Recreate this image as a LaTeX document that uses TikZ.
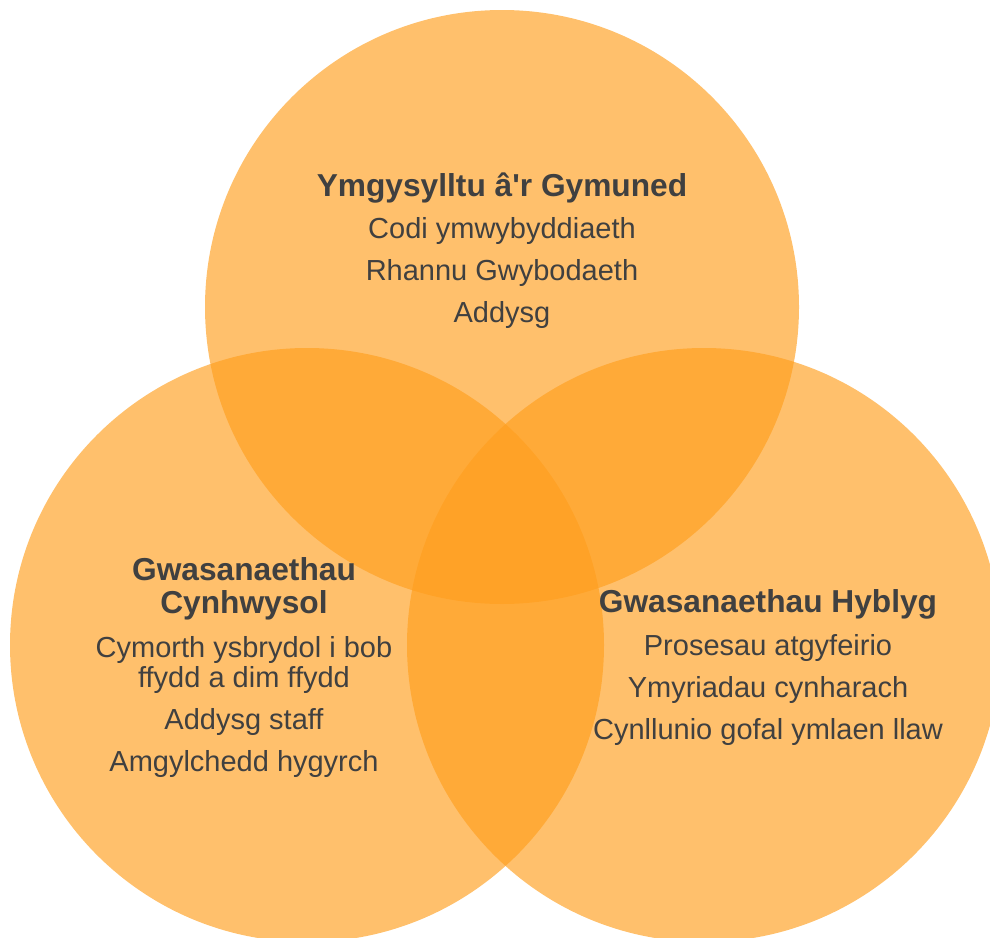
\documentclass[tikz,border=0pt]{standalone}
\usepackage{fontspec}
\setmainfont{Liberation Sans}
\definecolor{venn}{RGB}{255,158,29}
\definecolor{txt}{RGB}{64,64,64}
\tikzset{
  vcircle/.style={fill=venn, fill opacity=0.65, draw=none},
  head/.style={anchor=base, text=txt, font=\fontsize{31.7}{34}\selectfont\bfseries, inner sep=0pt},
  body/.style={anchor=base, text=txt, font=\fontsize{29}{31}\selectfont, inner sep=0pt}
}
\begin{document}
\begin{tikzpicture}[x=1pt,y=-1pt]
\useasboundingbox (0,0) rectangle (990,937);
\begin{scope}
\clip (0,0) rectangle (990,937);
\fill[vcircle] (502,307) circle (297);
\fill[vcircle] (307,645) circle (297);
\fill[vcircle] (704,645) circle (297);
\end{scope}
% top
\node[head] (t0) at (502,196) {Ymgysylltu â\textquotesingle r Gymuned};
\node[body] (t1) at (502,238) {Codi ymwybyddiaeth};
\node[body] (t2) at (502,280) {Rhannu Gwybodaeth};
\node[body] (t3) at (502,322) {Addysg};
% left
\node[head] (l0) at (244,580) {Gwasanaethau};
\node[head] (l1) at (244,613) {Cynhwysol};
\node[body] (l2) at (244,657) {Cymorth ysbrydol i bob};
\node[body] (l3) at (244,687) {ffydd a dim ffydd};
\node[body] (l4) at (244,729) {Addysg staff};
\node[body] (l5) at (244,771) {Amgylchedd hygyrch};
% right
\node[head] (r0) at (768,612) {Gwasanaethau Hyblyg};
\node[body] (r1) at (768,655) {Prosesau atgyfeirio};
\node[body] (r2) at (768,697) {Ymyriadau cynharach};
\node[body] (r3) at (768,739) {Cynllunio gofal ymlaen llaw};
\end{tikzpicture}
\end{document}
